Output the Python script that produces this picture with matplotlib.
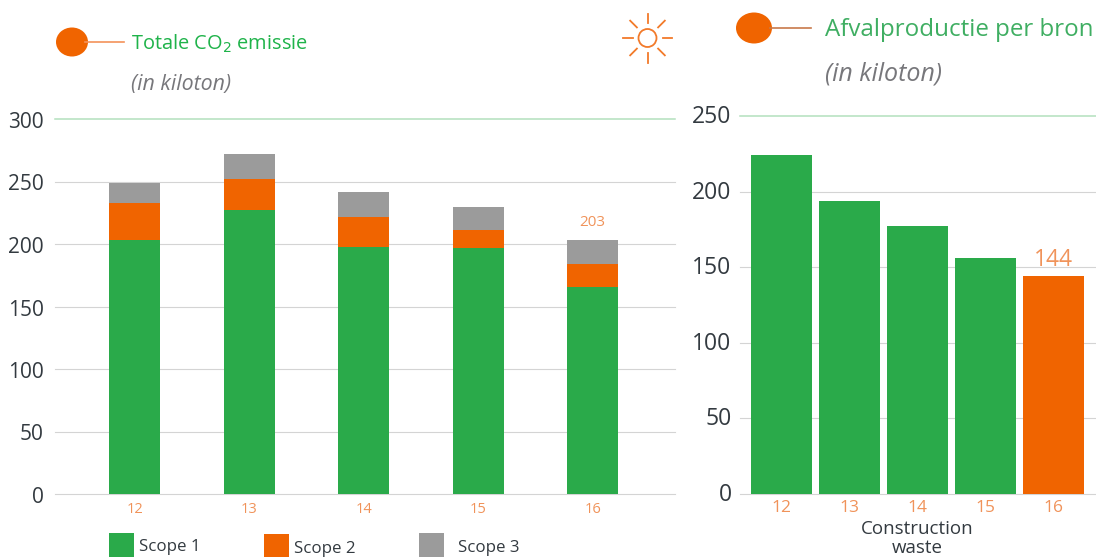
#!/usr/bin/env python3
import matplotlib
matplotlib.use('Agg')
import matplotlib.pyplot as plt
from matplotlib.patches import Ellipse, Rectangle, Circle
from matplotlib.transforms import ScaledTranslation
import numpy as np

plt.rcParams['font.family'] = ['Open Sans', 'DejaVu Sans']

W, H = 1096, 559
GREEN = '#2aaa4a'
ORANGE = '#f06400'
GREY = '#9b9b9b'
TITLE_GREEN = '#1fb34a'
TICK_ORANGE = '#f0935a'
DARK = '#333a40'

years = ['12', '13', '14', '15', '16']
scope1 = [203, 227, 198, 197, 166]
scope2 = [30, 25, 24, 14, 18]
scope3 = [16, 20, 20, 19, 19]
co2_total_label = '203'
co2_ticks = [0, 50, 100, 150, 200, 250, 300]

waste = [224, 194, 177, 156, 144]
waste_colors = [GREEN, GREEN, GREEN, GREEN, ORANGE]
waste_label = '144'
waste_ticks = [0, 50, 100, 150, 200, 250]


def axes_px(x0, x1, y_top, y_bot):
    return fig.add_axes([x0 / W, 1 - y_bot / H, (x1 - x0) / W, (y_bot - y_top) / H])


def style_axis(ax, ticks, tick_size, xtick_size, tick_pad, xtick_pad, ylab_shift):
    ax.set_yticks(ticks)
    ax.set_xticks(range(len(years)), years)
    ax.set_ylim(ticks[0], ticks[-1])
    for s in ax.spines.values():
        s.set_visible(False)
    ax.tick_params(length=0)
    ax.tick_params(axis='y', labelsize=tick_size, labelcolor=DARK, pad=tick_pad)
    ax.tick_params(axis='x', labelsize=xtick_size, labelcolor=TICK_ORANGE, pad=xtick_pad)
    # the labels in the reference sit a little off their gridlines
    shift = ScaledTranslation(0, ylab_shift / 100, fig.dpi_scale_trans)
    for lab in ax.get_yticklabels():
        lab.set_transform(lab.get_transform() + shift)
    for t in ticks[:-1]:
        ax.axhline(t, color='#d4d4d4', lw=0.8, zorder=1, clip_on=False)
    ax.axhline(ticks[-1], color='#b3e0bd', lw=1.1, zorder=1, clip_on=False)


fig = plt.figure(figsize=(W / 100, H / 100), dpi=100)

# ── Left chart ───────────────────────────────────────────────────────────────
ax1 = axes_px(55, 675, 119, 494)
x = np.arange(len(years))
s1 = np.array(scope1)
s2 = np.array(scope2)
s3 = np.array(scope3)
ax1.bar(x, s1, 0.445, color=GREEN, zorder=2)
ax1.bar(x, s2, 0.445, bottom=s1, color=ORANGE, zorder=2)
ax1.bar(x, s3, 0.445, bottom=s1 + s2, color=GREY, zorder=2)
ax1.set_xlim(-0.695, 4.72)
style_axis(ax1, co2_ticks, 15, 10.5, 8, 6, -1)
ax1.text(x[-1], (s1 + s2 + s3)[-1] + 8, co2_total_label, color=TICK_ORANGE,
         fontsize=11, ha='center', va='bottom')

# ── Right chart ──────────────────────────────────────────────────────────────
ax2 = axes_px(740, 1096, 116, 494)
ax2.bar(x, waste, 0.91, color=waste_colors, zorder=2)
ax2.set_xlim(-0.61, 4.625)
style_axis(ax2, waste_ticks, 16.5, 12.5, 6, 4.5, 2)
ax2.text(x[-1], waste[-1] + 3, waste_label, color=TICK_ORANGE, fontsize=16.5,
         ha='center', va='bottom')

# ── Overlay in pixel coordinates: titles, legend, sun icon ───────────────────
ov = fig.add_axes([0, 0, 1, 1], zorder=5)
ov.set_xlim(0, W)
ov.set_ylim(H, 0)
ov.axis('off')
ov.patch.set_alpha(0)

ov.add_patch(Ellipse((72, 42), 32, 29, color=ORANGE, lw=0))
ov.plot([85, 124], [42, 42], color='#f4925a', lw=1.2)
ov.text(131, 43.5, 'Totale CO$_2$ emissie', color=TITLE_GREEN, fontsize=14.4,
        va='center', math_fontfamily='dejavusans')
ov.text(131, 84.5, '(in kiloton)', color='#77777b', fontsize=15.4, style='italic',
        va='center')

ov.add_patch(Ellipse((754, 28), 36, 31, color=ORANGE, lw=0))
ov.plot([770, 811], [28, 28], color='#c8794a', lw=1.2)
ov.text(825, 30, 'Afvalproductie per bron', color='#3fae62', fontsize=17.4,
        va='center', clip_on=True)
ov.text(825, 74, '(in kiloton)', color='#77777b', fontsize=18, style='italic',
        va='center')

ov.text(917, 529, 'Construction', color=DARK, fontsize=13.5, ha='center', va='center')
ov.text(917, 548, 'waste', color=DARK, fontsize=13.5, ha='center', va='center')

for lx, ly, col, lab, tx, ty in [(109, 545, GREEN, 'Scope 1', 139, 547),
                                 (264, 545.5, ORANGE, 'Scope 2', 294, 549),
                                 (419, 545, GREY, 'Scope 3', 458, 547.5)]:
    ov.add_patch(Rectangle((lx, ly - 12), 24.5, 23.5, color=col, lw=0))
    ov.text(tx, ty, lab, color=DARK, fontsize=12.2, va='center')

# sun icon
cx, cy = 647.5, 38
ov.add_patch(Circle((cx, cy), 9, fill=False, ec='#f27a2a', lw=1.3))
for a in np.deg2rad(np.arange(0, 360, 45)):
    ov.plot([cx + 15 * np.cos(a), cx + 24.5 * np.cos(a)],
            [cy + 15 * np.sin(a), cy + 24.5 * np.sin(a)], color='#f27a2a', lw=1.3)

fig.savefig('out.png', dpi=100)
